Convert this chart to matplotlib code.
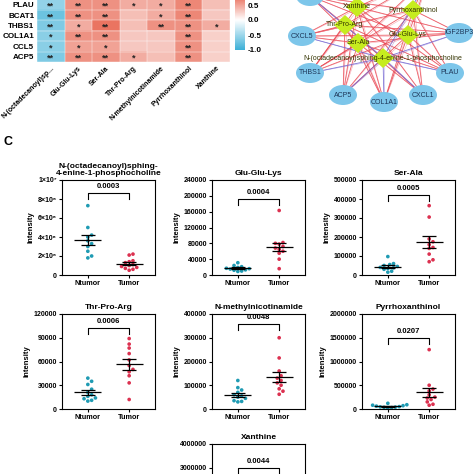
import numpy as np
import matplotlib
matplotlib.use("Agg")
import matplotlib.pyplot as plt
from matplotlib.colors import LinearSegmentedColormap
from matplotlib.patches import Ellipse, Polygon
from matplotlib.ticker import FixedLocator

plt.rcParams['font.family'] = ['Liberation Sans', 'DejaVu Sans']

# ---- heatmap data (correlation gene x metabolite) ----
genes = ['PLAU', 'BCAT1', 'THBS1', 'COL1A1', 'CCL5', 'ACP5']
metab_short = ['N-(octadecanoyl)sp...', 'Glu-Glu-Lys', 'Ser-Ala', 'Thr-Pro-Arg',
               'N-methylnicotinamide', 'Pyrrhoxanthinol', 'Xanthine']
corr = np.array([
    [-0.55, 0.60, 0.60, 0.45, 0.45, 0.65, 0.35],
    [-0.75, 0.60, 0.60, 0.35, 0.45, 0.65, 0.30],
    [-0.65, 0.45, 0.75, 0.35, 0.60, 0.60, 0.45],
    [-0.60, 0.60, 0.60, 0.30, 0.30, 0.60, 0.25],
    [-0.60, 0.50, 0.50, 0.30, 0.30, 0.60, 0.25],
    [-0.65, 0.60, 0.60, 0.45, 0.35, 0.60, 0.25],
])
stars = [
    ['**', '**', '**', '*', '*', '**', ''],
    ['**', '**', '**', '', '*', '**', ''],
    ['**', '*', '**', '', '**', '**', '*'],
    ['*', '**', '**', '', '', '**', ''],
    ['*', '*', '*', '', '', '**', ''],
    ['**', '**', '**', '*', '', '**', ''],
]

# ---- network ----
net_genes = ['BCAT1', 'CCL5', 'CXCL5', 'IGF2BP3', 'THBS1', 'PLAU', 'ACP5', 'COL1A1', 'CXCL1']
net_metab = ['Xanthine', 'Pyrrhoxanthinol', 'Thr-Pro-Arg', 'Glu-Glu-Lys', 'Ser-Ala',
             'N-(octadecanoyl)sphing-4-enine-1-phosphocholine']
metab_sign = [1, 1, 1, 1, 1, -1]

# ---- scatter panels ----
titles = ['N-(octadecanoyl)sphing-\n4-enine-1-phosphocholine', 'Glu-Glu-Lys', 'Ser-Ala',
          'Thr-Pro-Arg', 'N-methylnicotinamide', 'Pyrrhoxanthinol', 'Xanthine']
ntumor = [
    np.array([7.3, 5.0, 4.2, 4.0, 3.6, 3.3, 3.0, 2.5, 2.0, 1.8]) * 1e6,
    np.array([31, 24, 21, 19, 17, 16, 15, 13, 12, 10, 9]) * 1e3,
    np.array([97, 60, 55, 50, 45, 40, 38, 35, 30, 20, 15]) * 1e3,
    np.array([39, 35, 31, 25, 21, 18, 16, 14, 13, 11, 10]) * 1e3,
    np.array([120, 90, 80, 70, 60, 55, 50, 45, 35, 32, 30]) * 1e3,
    np.array([120, 90, 80, 70, 60, 50, 45, 40, 35, 30, 20]) * 1e3,
    np.array([1.6, 1.4, 1.2, 1.1, 1.0, 0.9, 0.8, 0.7, 0.6, 0.5]) * 1e6,
]
tumor = [
    np.array([2.2, 2.1, 1.5, 1.4, 1.3, 1.1, 1.0, 0.9, 0.8, 0.7, 0.6, 0.5]) * 1e6,
    np.array([163, 82, 80, 78, 72, 68, 65, 60, 55, 40, 16]) * 1e3,
    np.array([365, 305, 190, 175, 160, 145, 140, 110, 80, 70]) * 1e3,
    np.array([89, 82, 77, 70, 62, 55, 50, 47, 42, 33, 12]) * 1e3,
    np.array([300, 215, 160, 140, 130, 120, 110, 100, 85, 75, 62]) * 1e3,
    np.array([1250, 500, 420, 380, 300, 250, 230, 200, 150, 100, 80]) * 1e3,
    np.array([2.6, 2.3, 2.1, 1.9, 1.7, 1.5, 1.3, 1.1, 0.9, 0.8]) * 1e6,
]
pvals = ['0.0003', '0.0004', '0.0005', '0.0006', '0.0048', '0.0207', '0.0044']
ymax = [1e7, 240000, 500000, 120000, 400000, 2000000, 4000000]
ystep = [2e6, 40000, 100000, 30000, 100000, 500000, 1000000]
groups = ['Ntumor', 'Tumor']

W = H = 474.0
fig = plt.figure(figsize=(4.74, 4.74), dpi=100)


def rect(l, t, r, b):
    return [l / W, 1 - b / H, (r - l) / W, (b - t) / H]


# ---------------- heatmap ----------------
cmap = LinearSegmentedColormap.from_list('bw_r', ['#3CAFD6', '#FFFFFF', '#E4482F'])
ax = fig.add_axes(rect(37, -0.5, 230, 62))
im = ax.imshow(corr, cmap=cmap, vmin=-1, vmax=1, aspect='auto')
for i in range(len(genes)):
    for j in range(len(metab_short)):
        if stars[i][j]:
            ax.text(j, i + 0.15, stars[i][j], ha='center', va='center', fontsize=6.5,
                    fontweight='bold', color='#222222')
for k in range(len(genes) + 1):
    ax.axhline(k - 0.5, color='white', lw=0.3)
for k in range(len(metab_short) + 1):
    ax.axvline(k - 0.5, color='white', lw=0.3)
ax.set_yticks(range(len(genes)))
ax.set_yticklabels(genes, fontsize=5.8, fontweight='bold')
ax.set_xticks(range(len(metab_short)))
ax.set_xticklabels(metab_short, fontsize=5.0, fontweight='bold', rotation=45,
                   ha='right', rotation_mode='anchor')
ax.tick_params(length=0, pad=2)
for s in ax.spines.values():
    s.set_visible(False)

cax = fig.add_axes(rect(235, -10, 245, 50))
cb = fig.colorbar(im, cax=cax, ticks=[-1.0, -0.5, 0.0, 0.5])
cb.outline.set_visible(False)
cax.set_yticklabels(['-1.0', '-0.5', '0.0', '0.5'], fontsize=5.8, fontweight='bold')
cax.tick_params(length=0, pad=2)

# ---------------- network ----------------
nax = fig.add_axes(rect(280, 0, 474, 118))
nax.set_xlim(280, 474)
nax.set_ylim(118, 0)
nax.axis('off')
gene_xy = {'BCAT1': (310, -4), 'CCL5': (430, -25), 'CXCL5': (302, 36), 'IGF2BP3': (459, 33),
           'THBS1': (310, 73), 'PLAU': (450, 73), 'ACP5': (343, 95), 'COL1A1': (384, 102),
           'CXCL1': (423, 95)}
met_xy = {'Xanthine': (357, 7), 'Pyrrhoxanthinol': (413, 10), 'Thr-Pro-Arg': (345, 25),
          'Glu-Glu-Lys': (408, 35), 'Ser-Ala': (358, 43),
          'N-(octadecanoyl)sphing-4-enine-1-phosphocholine': (383, 58)}
for m, sg in zip(net_metab, metab_sign):
    mx, my = met_xy[m]
    for g in net_genes:
        gx, gy = gene_xy[g]
        col = '#E8404A' if sg > 0 else '#6A5CCF'
        nax.plot([mx, gx], [my, gy], color=col, lw=0.6, alpha=0.85, zorder=1)
        # a second, slightly offset edge gives the dense look of the original
        nax.plot([mx + 2, gx], [my + 1, gy], color='#F07080' if sg > 0 else '#8C7AD8',
                 lw=0.4, alpha=0.6, zorder=1)
for g in net_genes:
    gx, gy = gene_xy[g]
    nax.add_patch(Ellipse((gx, gy), 28, 20, facecolor='#7DC6EA', edgecolor='none', zorder=3))
    if gy > 10:  # labels of the nodes cropped at the top are not visible
        nax.text(gx, gy, g, ha='center', va='center', fontsize=5.0, color='#1D3557', zorder=4)
for m in net_metab:
    mx, my = met_xy[m]
    nax.add_patch(Polygon([(mx - 11, my), (mx, my - 10), (mx + 11, my), (mx, my + 10)],
                          closed=True, facecolor='#C6EC1F', edgecolor='none', zorder=3))
    nax.text(mx, my, m, ha='center', va='center', fontsize=5.0, color='#333300', zorder=4)

# ---------------- scatter panels ----------------
fig.text(3 / W, 1 - 142 / H, 'C', fontsize=9, fontweight='bold', va='center', ha='left')

lefts = [62, 212, 362]
tops = [180, 314, 444]
pw, ph = 93, 95
bracket = [0.86, 0.80, 0.84, 0.855, 0.90, 0.75, 0.75]
xspan = 2.25


def swarm(vals, ytop, d=3.8):
    ypx = vals / ytop * ph
    offs = np.zeros(len(vals))
    placed = []
    for i in np.argsort(ypx):
        cands = [0.0]
        for k in range(1, 40):
            cands += [k * d * 0.5, -k * d * 0.5]
        for c in cands:
            if all((c - px) ** 2 + (ypx[i] - py) ** 2 >= d * d for px, py in placed):
                break
        offs[i] = c
        placed.append((c, ypx[i]))
    return offs / (pw / xspan)


for k in range(7):
    if k < 6:
        l, t = lefts[k % 3], tops[k // 3]
    else:
        l, t = lefts[1], tops[2]
    a = fig.add_axes(rect(l, t, l + pw, t + ph))
    for gi, (vals, col) in enumerate([(ntumor[k], '#1F9BB3'), (tumor[k], '#DC3150')]):
        xs = gi + swarm(vals, ymax[k])
        a.scatter(xs, vals, s=7, color=col, edgecolors='none', zorder=2)
        m = vals.mean()
        se = vals.std(ddof=1) / np.sqrt(len(vals))
        a.hlines(m, gi - 0.33, gi + 0.33, color='black', lw=0.9, zorder=3)
        a.vlines(gi, m - se, m + se, color='black', lw=0.9, zorder=3)
        a.hlines([m - se, m + se], gi - 0.17, gi + 0.17, color='black', lw=0.9, zorder=3)
    yb = bracket[k] * ymax[k]
    drop = 0.065 * ymax[k]
    a.plot([0, 0, 1, 1], [yb - drop, yb, yb, yb - drop], color='black', lw=0.8)
    a.text(0.5, yb + 0.03 * ymax[k], pvals[k], ha='center', va='bottom', fontsize=5.5,
           fontweight='bold')
    a.set_xlim(-0.625, 1.625)
    a.set_ylim(0, ymax[k])
    ticks = np.arange(0, ymax[k] + 1, ystep[k])
    a.yaxis.set_major_locator(FixedLocator(ticks))
    if k == 0:
        lbls = ['0', '2×10⁶', '4×10⁶', '6×10⁶', '8×10⁶', '1×10⁷']
    else:
        lbls = [str(int(v)) for v in ticks]
    a.set_xticks([0, 1])
    if k == 6:
        # only the top of this panel lies inside the picture
        lbls = [s if v >= 3e6 else '' for s, v in zip(lbls, ticks)]
        a.set_xticklabels(['', ''])
    else:
        a.set_xticklabels(groups, fontsize=5.2, fontweight='bold')
        a.set_ylabel('Intensity', fontsize=5.5, fontweight='bold', labelpad=2)
    a.set_yticklabels(lbls, fontsize=5, fontweight='bold')
    a.tick_params(length=2.2, width=0.8, pad=1.5)
    for s in a.spines.values():
        s.set_linewidth(0.8)
    a.set_title(titles[k], fontsize=6, fontweight='bold', pad=3.5, linespacing=1.1)

fig.savefig('out.png', dpi=100)
